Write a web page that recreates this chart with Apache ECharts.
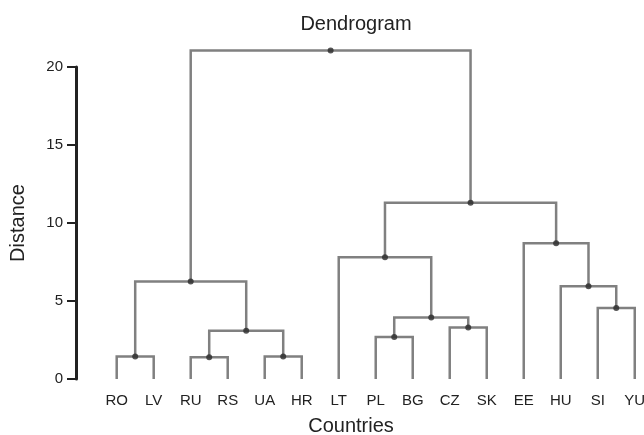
<!DOCTYPE html>
<html>
<head>
<meta charset="utf-8">
<script src="https://cdn.jsdelivr.net/npm/echarts@6/dist/echarts.min.js"></script>
<style>
    html, body {margin: 0; padding: 0; background: #fff;}
    #main {width: 644px; height: 435px;}
</style>
</head>
<body>
<div id="main"></div>
<script>
// leaf order along the x axis
const countries = ['RO', 'LV', 'RU', 'RS', 'UA', 'HR', 'LT', 'PL', 'BG', 'CZ', 'SK', 'EE', 'HU', 'SI', 'YU'];

// merges: [left node, right node, distance]; new nodes get ids 15, 16, ...
const mergeLeft = [0, 2, 4, 16, 15, 7, 9, 20, 6, 13, 12, 11, 23, 19];
const mergeRight = [1, 3, 5, 17, 18, 8, 10, 21, 22, 14, 24, 25, 26, 27];
const mergeHeight = [1.45, 1.4, 1.45, 3.1, 6.25, 2.7, 3.3, 3.95, 7.8, 4.55, 5.95, 8.7, 11.3, 21.05];

const yTicks = [0, 5, 10, 15, 20];

// node positions: leaves at their index, height 0
const nodeX = countries.map((c, i) => i);
const nodeH = countries.map(() => 0);
const links = [];
const dots = [];
mergeHeight.forEach((h, i) => {
    const a = mergeLeft[i], b = mergeRight[i];
    links.push([nodeX[a], nodeH[a], nodeX[b], nodeH[b], h]);
    const x = (nodeX[a] + nodeX[b]) / 2;
    nodeX.push(x);
    nodeH.push(h);
    dots.push([x, h]);
});

const font = 'Liberation Sans, Arial, sans-serif';
const chart = echarts.init(document.getElementById('main'));
chart.setOption({
    animation: false,
    title: {
        text: 'Dendrogram',
        left: 351,
        top: 9,
        textAlign: 'center',
        textStyle: {fontFamily: font, fontSize: 20, fontWeight: 'normal', color: '#222'}
    },
    grid: {left: 76, right: 0, top: 67, bottom: 56, outerBoundsMode: 'none'},
    xAxis: {
        type: 'value',
        min: -1.1,
        max: 14.25,
        name: 'Countries',
        nameLocation: 'middle',
        nameGap: 37,
        nameTextStyle: {fontFamily: font, fontSize: 20, color: '#222', padding: [0, 18, 0, 0]},
        axisLine: {show: false},
        axisTick: {show: false},
        splitLine: {show: false},
        axisLabel: {
            customValues: countries.map((c, i) => i),
            formatter: v => countries[Math.round(v)],
            margin: 14,
            fontFamily: font,
            fontSize: 15,
            color: '#222'
        }
    },
    yAxis: {
        type: 'value',
        min: 0,
        max: 20,
        interval: 5,
        name: 'Distance',
        nameLocation: 'middle',
        nameGap: 48,
        nameTextStyle: {fontFamily: font, fontSize: 20, color: '#222'},
        axisLine: {show: true, onZero: false, lineStyle: {color: '#222', width: 3}},
        axisTick: {show: true, length: 9, lineStyle: {color: '#222', width: 2}},
        splitLine: {show: false},
        axisLabel: {
            customValues: yTicks,
            margin: 13,
            fontFamily: font,
            fontSize: 15,
            color: '#222'
        }
    },
    series: [
        {
            type: 'custom',
            clip: false,
            encode: {x: [0, 2], y: [1, 3, 4]},
            data: links,
            renderItem: (params, api) => {
                const p1 = api.coord([api.value(0), api.value(1)]);
                const p2 = api.coord([api.value(0), api.value(4)]);
                const p3 = api.coord([api.value(2), api.value(4)]);
                const p4 = api.coord([api.value(2), api.value(3)]);
                return {
                    type: 'polyline',
                    shape: {points: [p1, p2, p3, p4]},
                    style: {stroke: '#808080', lineWidth: 2.5, fill: null}
                };
            }
        },
        {
            type: 'scatter',
            clip: false,
            data: dots,
            symbolSize: 6,
            itemStyle: {color: '#2b2b2b'},
            z: 3
        }
    ]
});
</script>
</body>
</html>
